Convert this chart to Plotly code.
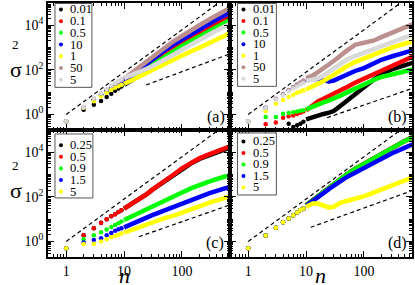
import plotly.graph_objects as go
from plotly.subplots import make_subplots

# ------------------------------------------------------------------ data
N_DOTS = [1, 2, 3, 4, 5, 6, 7, 8, 9]
N_LINE_A = [10, 15, 20, 30, 50, 70, 100, 150, 200, 300, 500, 700]
N_LINE = [10, 13, 16, 20, 25, 30, 40, 50, 70, 100, 150, 200, 300, 500, 700]

LABELS_AB = ["0.01", "0.1", "0.5", "10", "1", "50", "5"]
COLORS_AB = ["#000000", "#ff0000", "#00ff00", "#0000ff", "#ffff00", "#bc8f8f", "#d9d9d9"]
LABELS_CD = ["0.25", "0.5", "0.9", "1.5", "5"]
COLORS_CD = ["#000000", "#ff0000", "#00ff00", "#0000ff", "#ffff00"]

X_TICKS = [1, 10, 100]
X_TICK_TEXT = ["1", "10", "100"]
Y_TICKS = [1, 100, 10000]
Y_TICK_TEXT = ["10<sup>0</sup>", "10<sup>2</sup>", "10<sup>4</sup>"]

# panel (a)
A_DOT_001 = [0.5, 1.6, 2.75, 4.0, 6.0, 8.5, 11.5, 14.5, 17.8]
A_DOT_01 = [0.5, 2.0, 4.5, 7.6, 11, 14.5, 18.5, 22, 25]
A_DOT_05 = [0.5, 2.0, 4.3, 7.2, 10.5, 14, 17.5, 21, 23.5]
A_DOT_10 = [0.5, 2.05, 4.7, 8.0, 12, 16, 20.5, 25, 28.5]
A_DOT_1 = [0.5, 2.0, 3.9, 6.5, 9.5, 12.6, 15.8, 18.6, 21.4]
A_DOT_50 = [0.5, 2.1, 5.2, 8.8, 13.5, 19, 24, 29.5, 35]
A_DOT_5 = [0.5, 2.1, 5.5, 9.1, 14, 20, 25, 32, 38]

A_LINE_001 = [21, 40, 66, 126, 316, 562, 1050, None, None, None, None, None]
A_LINE_01 = [28, 60, 105, 224, 537, 955, 1700, 3090, 4470, 8500, 17400, 26300]
A_LINE_05 = [26, 52, 85, 174, 380, 660, 1175, 2140, 3090, 5900, 12000, 18200]
A_LINE_10 = [31.6, 71, 126, 282, 741, 1320, 2340, 4270, 6300, 12000, 25100, 38000]
A_LINE_1 = [24, 38, 56, 95, 186, 282, 437, 724, 977, 1585, 3020, 4570]
A_LINE_50 = [40, 89, 158, 355, 1050, 1860, 3300, 6600, 10000, 18600, 39800, 63000]
A_LINE_5 = [44, 63, 89, 141, 270, 468, 794, 1510, 2240, 3980, 7940, 12000]

# panel (b)
B_DOT_001 = [None, None, None, None, 0.38, 0.27, 0.33, 0.38, 0.47]
B_DOT_01 = [0.5, 0.36, 0.43, 0.71, 0.83, 0.9, 1.05, 1.2, 1.35]
B_DOT_05 = [0.5, 0.76, 0.76, 1.07, 1.17, 1.25, 1.35, 1.45, 1.55]
B_DOT_10 = [0.5, 2.0, 4.9, 7.8, 12, 16.5, 21, 26, 31]
B_DOT_1 = [0.5, 1.4, 3.0, 4.4, 6.0, 7.6, 9.3, 10.7, 12.3]
B_DOT_50 = [0.5, 2.0, 5.0, 8.0, 12.5, 17, 22, 27, 33]
B_DOT_5 = [0.5, 1.95, 4.7, 7.2, 11, 14.5, 18, 22, 26]

B_LINE_001 = [0.6, 0.76, 0.87, 1.05, 1.2, 1.41, 2.5, 4.0, 8.3, 17.8, 38, 63, 105, 158, 209]
B_LINE_01 = [1.5, 2.5, 3.8, 5.0, 6.9, 8.9, 12.6, 16.6, 26.3, 40, 66, 95, 158, 282, 398]
B_LINE_05 = [1.7, 2.3, 2.9, 3.5, 4.3, 5.0, 7.1, 9.5, 14.8, 24, 36, 48, 63, 85, 105]
B_LINE_10 = [35.5, 40, 40, 34, 30, 33, 48, 63, 89, 120, 200, 282, 398, 603, 760]
B_LINE_1 = [13.2, 17.8, 23, 31.6, 45, 63, 95, 141, 224, 331, 479, 676, 1000, 1480, 1900]
B_LINE_50 = [42.7, 56, 79, 112, 178, 251, 417, 708, 1320, 1585, 2090, 2950, 4570, 7940, 11200]
B_LINE_5 = [31.6, 35.5, 41.7, 56, 83, 120, 200, 282, 417, 603, 891, 1200, 1780, 2820, 3720]

# panel (c)
C_DOT_025 = [0.5, 1.9, 3.9, 6.9, 9.8, 13.5, 16.6, 20.9, 25]
C_DOT_05 = [0.5, 1.9, 3.9, 6.9, 9.8, 13.5, 16.6, 20.9, 25]
C_DOT_09 = [0.5, 1.26, 1.9, 2.6, 3.4, 4.4, 5.4, 6.5, 7.8]
C_DOT_15 = [0.5, 0.89, 1.17, 1.4, 1.9, 2.4, 3.0, 3.5, 3.9]
C_DOT_5 = [0.5, 0.76, 0.78, 1.0, 1.26, 1.55, 1.75, 2.0, 2.25]

C_LINE_025 = [29.5, 44.7, 63, 93, 135, 200, 331, 500, 955, 1850, 3400, 5000, 7600, 12300, 16600]
C_LINE_05 = [29.5, 44.7, 63, 93, 135, 200, 331, 500, 955, 1900, 3550, 5370, 8300, 13800, 19000]
C_LINE_09 = [9.1, 12.6, 16.6, 22.4, 30, 38, 56, 72, 107, 158, 251, 339, 500, 760, 955]
C_LINE_15 = [4.3, 5.6, 7.2, 9.3, 12, 14.8, 20, 25, 35.5, 52, 76, 100, 148, 224, 288]
C_LINE_5 = [2.45, 3.2, 3.8, 4.7, 5.75, 6.9, 9.1, 11.2, 14.1, 19, 28, 37, 55, 85, 107]

# panel (d)
D_DOT_025 = [0.5, 1.85, 4.1, 7.2, 10.7, 15, 20, 26, 30]
D_DOT_05 = [0.5, 1.85, 4.1, 7.2, 10.7, 15, 20, 26, 30]
D_DOT_09 = [0.5, 1.85, 4.1, 7.2, 10.7, 15, 20, 26, 30]
D_DOT_15 = [0.5, 1.85, 4.1, 7.2, 10.7, 15, 20, 26, 30]
D_DOT_5 = [0.5, 1.85, 4.1, 7.2, 10.7, 15, 20, 26, 30]

D_LINE_025 = [42, 71, 112, 178, 282, 398, 661, 1000, 1780, 3020, 5620, 8700, 15800, 31600, 47900]
D_LINE_05 = [42, 71, 112, 178, 282, 398, 661, 1000, 1780, 3020, 5620, 8700, 15800, 31600, 47900]
D_LINE_09 = [42, 71, 112, 178, 282, 398, 661, 1000, 1780, 3020, 5620, 8700, 15800, 31600, 47900]
D_LINE_15 = [40, 63, 93, 148, 229, 316, 525, 760, 1200, 2000, 3550, 5370, 8900, 15800, 22900]
D_LINE_5 = [35.5, 50, 50, 40, 33, 36, 55, 65, 79, 105, 158, 214, 316, 525, 760]

# dashed guide lines (n, sigma^2) end points
REF_UP_N = [1, 500]
REF_UP_S = [1, 1.34e5]
REF_LOW_A_N, REF_LOW_A_S = [24, 660], [21, 510]
REF_LOW_B_N, REF_LOW_B_S = [23, 700], [0.71, 15]
REF_LOW_C_N, REF_LOW_C_S = [18, 650], [1.62, 42]
REF_LOW_D_N, REF_LOW_D_S = [12, 700], [4.3, 195]

PANELS = [
    dict(row=1, col=1, tag="(a)", labels=LABELS_AB, colors=COLORS_AB, nline=N_LINE_A,
         dots=[A_DOT_001, A_DOT_01, A_DOT_05, A_DOT_10, A_DOT_1, A_DOT_50, A_DOT_5],
         lines=[A_LINE_001, A_LINE_01, A_LINE_05, A_LINE_10, A_LINE_1, A_LINE_50, A_LINE_5],
         low=(REF_LOW_A_N, REF_LOW_A_S)),
    dict(row=1, col=2, tag="(b)", labels=LABELS_AB, colors=COLORS_AB, nline=N_LINE,
         dots=[B_DOT_001, B_DOT_01, B_DOT_05, B_DOT_10, B_DOT_1, B_DOT_50, B_DOT_5],
         lines=[B_LINE_001, B_LINE_01, B_LINE_05, B_LINE_10, B_LINE_1, B_LINE_50, B_LINE_5],
         low=(REF_LOW_B_N, REF_LOW_B_S)),
    dict(row=2, col=1, tag="(c)", labels=LABELS_CD, colors=COLORS_CD, nline=N_LINE,
         dots=[C_DOT_025, C_DOT_05, C_DOT_09, C_DOT_15, C_DOT_5],
         lines=[C_LINE_025, C_LINE_05, C_LINE_09, C_LINE_15, C_LINE_5],
         low=(REF_LOW_C_N, REF_LOW_C_S)),
    dict(row=2, col=2, tag="(d)", labels=LABELS_CD, colors=COLORS_CD, nline=N_LINE,
         dots=[D_DOT_025, D_DOT_05, D_DOT_09, D_DOT_15, D_DOT_5],
         lines=[D_LINE_025, D_LINE_05, D_LINE_09, D_LINE_15, D_LINE_5],
         low=(REF_LOW_D_N, REF_LOW_D_S)),
]

# ------------------------------------------------------------------ layout geometry
W, H = 415, 285
ML, MR, MT, MB = 48, 2, 1, 28
PW, PH = W - ML - MR, H - MT - MB
FONT = "Liberation Serif"


def px(X):
    return (X - ML) / PW


def py(Y):
    return 1 - (Y - MT) / PH


fig = make_subplots(rows=2, cols=2, horizontal_spacing=0, vertical_spacing=0)

for p in PANELS:
    r, c = p["row"], p["col"]
    fig.add_trace(go.Scatter(x=REF_UP_N, y=REF_UP_S, mode="lines",
                             line=dict(color="black", width=1.2, dash="4px,3px"),
                             hoverinfo="skip"), row=r, col=c)
    fig.add_trace(go.Scatter(x=p["low"][0], y=p["low"][1], mode="lines",
                             line=dict(color="black", width=1.2, dash="4px,3px"),
                             hoverinfo="skip"), row=r, col=c)
    for lab, col, d, l in zip(p["labels"], p["colors"], p["dots"], p["lines"]):
        fig.add_trace(go.Scatter(x=N_DOTS, y=d, mode="markers", name=lab,
                                 marker=dict(color=col, size=4.5, line=dict(width=0))),
                      row=r, col=c)
        fig.add_trace(go.Scatter(x=p["nline"], y=l, mode="lines", name=lab,
                                 line=dict(color=col, width=4.5)),
                      row=r, col=c)

MINOR_X = [k * 10 ** e for e in range(-1, 3) for k in range(2, 10)]
MINOR_Y = [k * 10 ** e for e in range(-1, 5) for k in range(2, 10)] + [10, 1000]

axis_common = dict(type="log", ticks="inside", ticklen=6, tickwidth=1, tickcolor="black",
                   mirror="ticks", showline=True, linewidth=1.5, linecolor="black",
                   showgrid=False, zeroline=False, tickmode="array",
                   tickfont=dict(family=FONT, size=14, color="black"))

for r in (1, 2):
    for c in (1, 2):
        fig.update_xaxes(axis_common, range=[-0.315, 2.83], tickvals=X_TICKS,
                         ticktext=X_TICK_TEXT, showticklabels=(r == 2),
                         minor=dict(ticks="inside", ticklen=3, tickmode="array",
                                    tickvals=MINOR_X, tickcolor="black", showgrid=False),
                         row=r, col=c)
        fig.update_yaxes(axis_common, range=[-0.699, 5.0], tickvals=Y_TICKS,
                         ticktext=Y_TICK_TEXT, showticklabels=(c == 1),
                         minor=dict(ticks="inside", ticklen=3, tickmode="array",
                                    tickvals=MINOR_Y, tickcolor="black", showgrid=False),
                         row=r, col=c)

annotations = []
shapes = []

# axis titles
for ys, y2 in ((68.5, 42.5), (190, 165)):
    annotations.append(dict(text="σ", x=px(16), y=py(ys), xref="paper", yref="paper",
                            showarrow=False, xanchor="center", yanchor="middle",
                            font=dict(family=FONT, size=22, color="black")))
    annotations.append(dict(text="2", x=px(15.5), y=py(y2), xref="paper", yref="paper",
                            showarrow=False, xanchor="center", yanchor="middle",
                            font=dict(family=FONT, size=13, color="black")))
for xn in (125, 321.7):
    annotations.append(dict(text="<i>n</i>", x=px(xn), y=py(275.6), xref="paper", yref="paper",
                            showarrow=False, xanchor="center", yanchor="middle",
                            font=dict(family=FONT, size=22, color="black")))

# panel tags
TAG_POS = {"(a)": (216.5, 116), "(b)": (398, 116), "(c)": (215.7, 242.5), "(d)": (398, 242.5)}
for p in PANELS:
    tx, ty = TAG_POS[p["tag"]]
    annotations.append(dict(text=p["tag"], x=px(tx), y=py(ty), xref="paper", yref="paper",
                            showarrow=False, xanchor="center", yanchor="middle",
                            font=dict(family=FONT, size=16, color="black")))

# in-panel legends (box, dot, label)
LEG_BOX = {"(a)": (55, 1.5, 92, 86, 7.5, 11.8), "(b)": (238, 1.5, 277, 85, 7.5, 11.65),
           "(c)": (55, 133, 93, 197.5, 144.3, 11.7), "(d)": (238, 132, 277, 194.5, 140.5, 11.6)}
for p in PANELS:
    x0, y0, x1, y1, e0, de = LEG_BOX[p["tag"]]
    shapes.append(dict(type="rect", xref="paper", yref="paper", x0=px(x0), x1=px(x1),
                       y0=py(y1), y1=py(y0), line=dict(color="#555555", width=1),
                       fillcolor="white", layer="above"))
    for i, (lab, col) in enumerate(zip(p["labels"], p["colors"])):
        ey = e0 + i * de
        shapes.append(dict(type="circle", xref="paper", yref="paper",
                           xsizemode="pixel", ysizemode="pixel",
                           xanchor=px(x0 + 6), yanchor=py(ey),
                           x0=-2, x1=2, y0=-2, y1=2,
                           fillcolor=col, line=dict(width=0), layer="above"))
        annotations.append(dict(text=lab, x=px(x0 + 13.5), y=py(ey), xref="paper", yref="paper",
                                showarrow=False, xanchor="left", yanchor="middle",
                                font=dict(family=FONT, size=12.5, color="black")))

fig.update_layout(width=W, height=H, margin=dict(l=ML, r=MR, t=MT, b=MB),
                  paper_bgcolor="white", plot_bgcolor="white", showlegend=False,
                  font=dict(family=FONT, size=14, color="black"),
                  annotations=annotations, shapes=shapes)

fig.write_html("out.html", config={"displayModeBar": False},
               post_script="document.body.style.margin='0px';document.body.style.overflow='hidden';")
